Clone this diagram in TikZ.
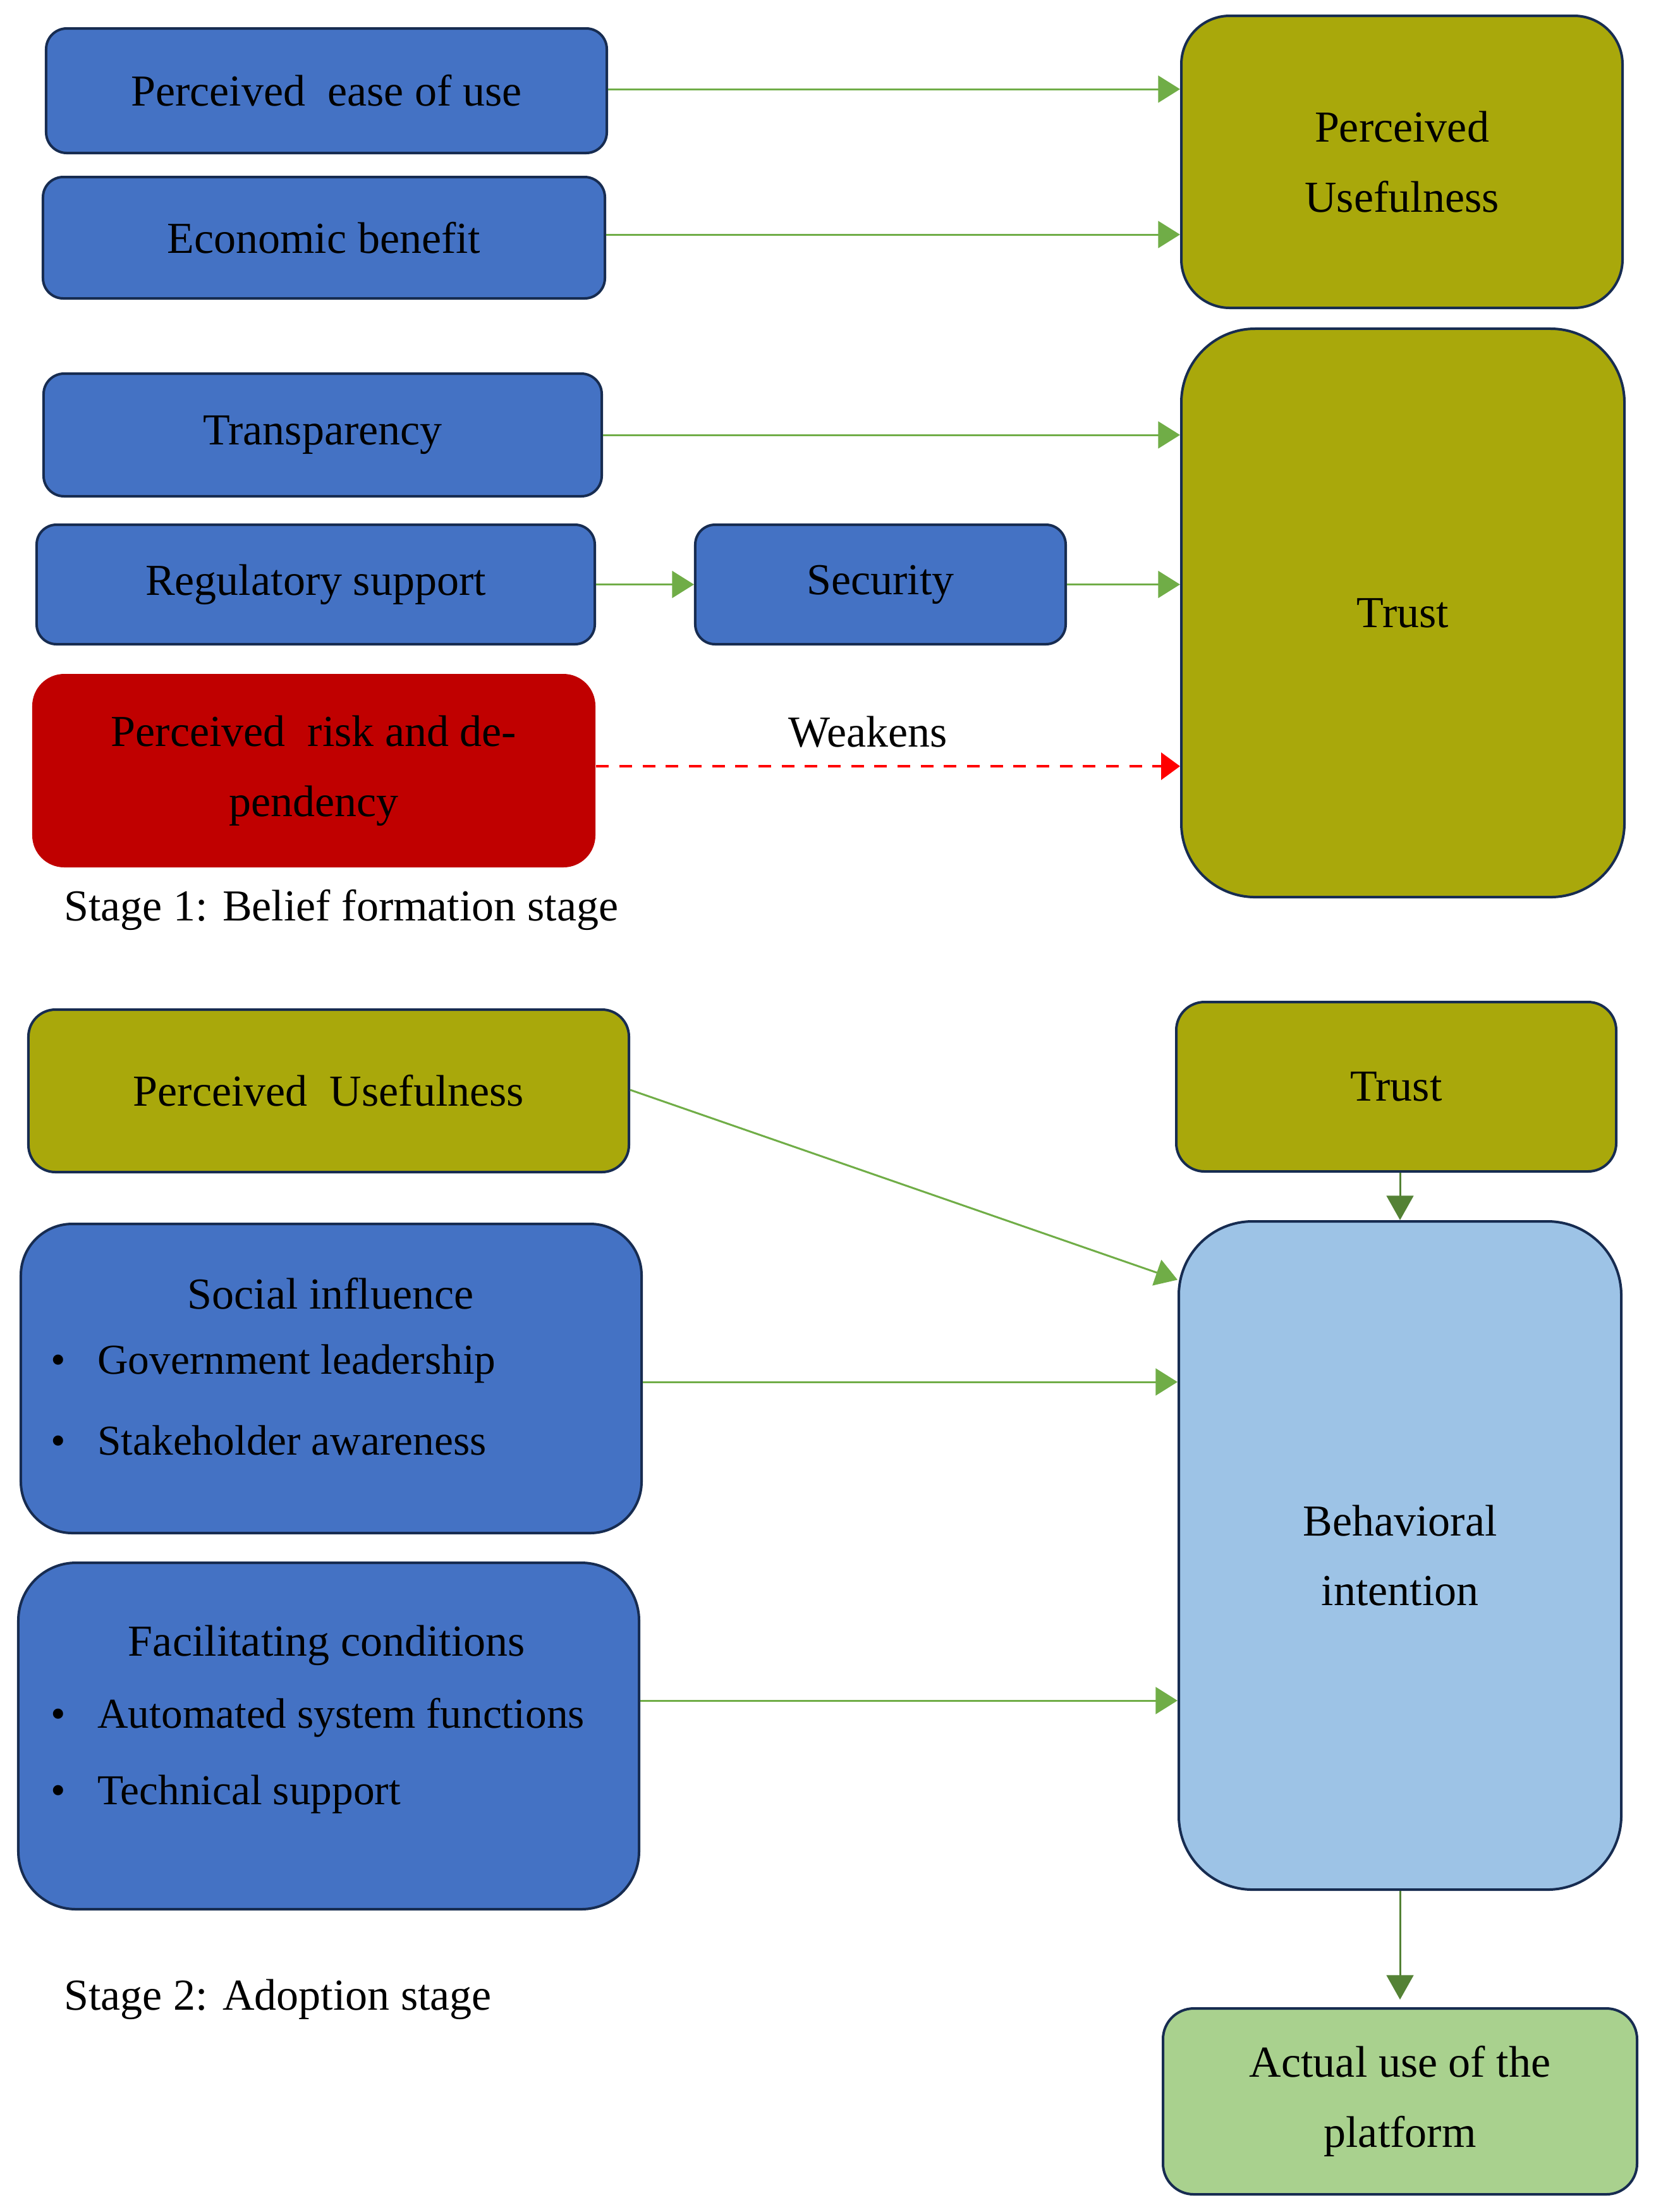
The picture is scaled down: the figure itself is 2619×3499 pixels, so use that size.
\documentclass[tikz,border=0pt]{standalone}
\usepackage{fontspec}
\setmainfont{Liberation Serif}
\usetikzlibrary{arrows.meta,calc}
\definecolor{boxblue}{HTML}{4472C4}
\definecolor{edgenavy}{HTML}{172C51}
\definecolor{olivebox}{HTML}{A9A80B}
\definecolor{lightbluebox}{HTML}{9DC3E6}
\definecolor{lightgreenbox}{HTML}{A9D18E}
\definecolor{riskred}{HTML}{C00000}
\definecolor{arrgreen}{HTML}{70AD47}
\definecolor{arrdark}{HTML}{548235}
\definecolor{dashred}{HTML}{FF0000}
\begin{document}
\begin{tikzpicture}[x=0.15pt,y=-0.15pt,
  txt/.style={font=\fontsize{10.5}{16.6}\selectfont, text=black, align=center},
  plain/.style={txt, inner sep=0pt},
  item/.style={plain, font=\fontsize{10.1}{16.6}\selectfont},
  box/.style={txt, rectangle, draw=edgenavy, line width=0.6pt, inner sep=0pt},
  bluebox/.style={box, fill=boxblue},
  olive/.style={box, fill=olivebox},
  garrow/.style={draw=arrgreen, line width=0.45pt, -{Triangle[length=5.2pt,width=6.4pt]}},
  darrow/.style={draw=arrdark, line width=0.45pt, -{Triangle[length=5.8pt,width=6.4pt]}},
  rarrow/.style={draw=dashred, line width=0.7pt, dash pattern=on 3pt off 2.5pt, -{Triangle[length=4.5pt,width=6.4pt]}}
]
\useasboundingbox (0,0) rectangle (2619,3499);

% ---------- Stage 1 ----------
\node[bluebox, minimum width=133.05pt, minimum height=29.55pt, rounded corners=4.9pt] (peou) at (516.5,143.5) {Perceived\ \ ease of use};
\node[bluebox, minimum width=133.35pt, minimum height=28.8pt, rounded corners=4.8pt] (econ) at (512.5,376) {Economic benefit};
\node[olive, minimum width=104.7pt, minimum height=69.3pt, rounded corners=11.5pt] (pu1) at (2218,256) {Perceived\\Usefulness};
\node[bluebox, minimum width=132.45pt, minimum height=29.1pt, rounded corners=4.85pt] (transp) at (510.5,688) {Transparency};
\node[bluebox, minimum width=132.45pt, minimum height=28.35pt, rounded corners=4.7pt] (reg) at (499.5,924.5) {Regulatory support};
\node[bluebox, minimum width=87.9pt, minimum height=28.35pt, rounded corners=4.7pt] (sec) at (1393,924.5) {Security};
\node[olive, minimum width=105.15pt, minimum height=134.85pt, rounded corners=17.5pt] (trust1) at (2219.5,969.5) {Trust};
\node[txt, fill=riskred, inner sep=0pt, minimum width=133.65pt, minimum height=45.9pt, rounded corners=7.6pt] (risk) at (496.5,1219) {Perceived\ \ risk and de-\\pendency};
\node[plain] (weak) at (1373,1158) {Weakens};
\node[plain, anchor=west] (stage1) at (100,1439) {Stage 1: Belief formation stage};

\draw[garrow] (peou.east |- 0,141) -- (pu1.west |- 0,141);
\draw[garrow] (econ.east |- 0,371) -- (pu1.west |- 0,371);
\draw[garrow] (transp.east) -- (transp.east -| trust1.west);
\draw[garrow] (reg.east) -- (sec.west);
\draw[garrow] (sec.east) -- (sec.east -| trust1.west);
\draw[rarrow] (risk.east |- 0,1212) -- (trust1.west |- 0,1212);

% ---------- Stage 2 ----------
\node[olive, minimum width=142.5pt, minimum height=38.55pt, rounded corners=6.4pt] (pu2) at (520,1725.5) {Perceived\ \ Usefulness};
\node[olive, minimum width=104.4pt, minimum height=40.2pt, rounded corners=6.7pt] (trust2) at (2209,1719) {Trust};
\node[bluebox, minimum width=147.3pt, minimum height=73.35pt, rounded corners=12.2pt] (social) at (524,2180.5) {};
\node[plain] (socialt) at (523,2046) {Social influence};
\node[item, anchor=west] (st1) at (153,2157) {Government leadership};
\node[item, anchor=base] (sb1) at (92,0 |- st1.base) {•};
\node[item, anchor=west] (st2) at (153,2278) {Stakeholder awareness};
\node[item, anchor=base] (sb2) at (92,0 |- st2.base) {•};

\node[bluebox, minimum width=147.3pt, minimum height=82.2pt, rounded corners=13.7pt] (facil) at (520,2746) {};
\node[plain] (facilt) at (517,2603) {Facilitating conditions};
\node[item, anchor=west] (ft1) at (153,2717) {Automated system functions};
\node[item, anchor=base] (fb1) at (92,0 |- ft1.base) {•};
\node[item, anchor=west] (ft2) at (153,2838) {Technical support};
\node[item, anchor=base] (fb2) at (92,0 |- ft2.base) {•};

\node[box, fill=lightbluebox, minimum width=105pt, minimum height=158.55pt, rounded corners=17.5pt] (bi) at (2215,2460.5) {Behavioral\\intention};
\node[box, fill=lightgreenbox, minimum width=112.5pt, minimum height=44.1pt, rounded corners=7.3pt] (actual) at (2215,3324) {Actual use of the\\platform};
\node[plain, anchor=west] (stage2) at (100,3163) {Stage 2: Adoption stage};

\draw[garrow] (pu2.east |- 0,1724) -- ($(bi.north west)!0.089!(bi.south west)$);
\draw[garrow] (social.east |- 0,2186) -- (bi.west |- 0,2186);
\draw[garrow] (facil.east |- 0,2690) -- (bi.west |- 0,2690);
\draw[darrow] (bi.north |- trust2.south) -- (bi.north);
\draw[darrow] (bi.south) -- ($(actual.north)+(0,-12)$);
\end{tikzpicture}
\end{document}
